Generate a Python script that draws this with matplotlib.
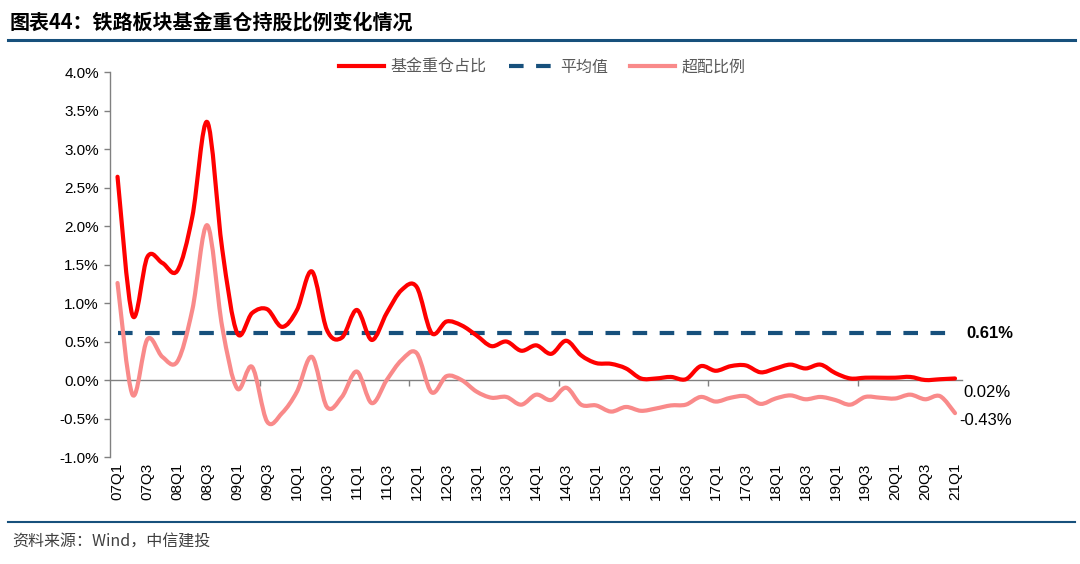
import numpy as np
import matplotlib
matplotlib.use("Agg")
import matplotlib.pyplot as plt
from matplotlib.path import Path
from matplotlib.patches import PathPatch
from matplotlib.lines import Line2D

plt.rcParams['font.family'] = ['Liberation Sans', 'Noto Sans CJK SC']

# data, % values, 07Q1 .. 21Q1
quarters = [f"{y:02d}Q{q}" for y in range(7, 22) for q in range(1, 5)][:57]

heavy = [2.64, 0.84, 1.60, 1.52, 1.42, 2.12, 3.35, 1.70,
         0.61, 0.87, 0.92, 0.69, 0.91, 1.41, 0.65, 0.55,
         0.91, 0.52, 0.87, 1.17, 1.21, 0.61, 0.76, 0.71,
         0.58, 0.44, 0.50, 0.38, 0.45, 0.34, 0.51, 0.32,
         0.22, 0.21, 0.15, 0.02, 0.02, 0.04, 0.01, 0.18,
         0.12, 0.18, 0.19, 0.10, 0.15, 0.20, 0.15, 0.20,
         0.09, 0.02, 0.03, 0.03, 0.03, 0.04, 0.00, 0.01,
         0.02]

overweight = [1.26, -0.19, 0.53, 0.30, 0.24, 0.91, 2.01, 0.69,
              -0.11, 0.17, -0.54, -0.43, -0.15, 0.30, -0.35, -0.22,
              0.11, -0.30, 0.00, 0.26, 0.35, -0.16, 0.05, 0.00,
              -0.15, -0.23, -0.22, -0.32, -0.19, -0.26, -0.10, -0.32,
              -0.33, -0.41, -0.35, -0.40, -0.37, -0.33, -0.32, -0.22,
              -0.28, -0.23, -0.21, -0.31, -0.24, -0.20, -0.25, -0.22,
              -0.26, -0.32, -0.22, -0.23, -0.24, -0.19, -0.25, -0.21,
              -0.43]

avg_value = 0.61

RED = "#FF0000"
PINK = "#F98A8A"
NAVY = "#17507C"
GRID = "#808080"


def smooth_path(x, y):
    # excel-style smoothed line: catmull-rom segments as cubic beziers
    n = len(x)
    verts = [(x[0], y[0])]
    codes = [Path.MOVETO]
    for i in range(n - 1):
        a = max(i - 1, 0)
        b = min(i + 2, n - 1)
        c1 = (x[i] + (x[i + 1] - x[a]) / 6, y[i] + (y[i + 1] - y[a]) / 6)
        c2 = (x[i + 1] - (x[b] - x[i]) / 6, y[i + 1] - (y[b] - y[i]) / 6)
        verts += [c1, c2, (x[i + 1], y[i + 1])]
        codes += [Path.CURVE4] * 3
    return Path(verts, codes)


fig = plt.figure(figsize=(10.8, 5.64), dpi=100)
ax = fig.add_axes([0.1019, 0.1897, 0.7893, 0.6826])

xs = np.arange(len(quarters))

ax.add_patch(PathPatch(smooth_path(xs, overweight), fill=False, edgecolor=PINK,
                       lw=3, capstyle='round', joinstyle='round', zorder=3))
ax.add_patch(PathPatch(smooth_path(xs, heavy), fill=False, edgecolor=RED,
                       lw=3, capstyle='round', joinstyle='round', zorder=4))
ax.plot(xs, [avg_value] * len(xs), color=NAVY, lw=3, dashes=(3.5, 3), zorder=2)

ax.set_xlim(-0.5, len(quarters) - 0.5)
ax.set_ylim(-1.0, 4.0)
ax.set_yticks(np.arange(-1.0, 4.01, 0.5))
ax.set_yticklabels([f"{v:.1f}%" for v in np.arange(-1.0, 4.01, 0.5)], fontsize=11)
ax.set_xticks(xs[::2])
ax.set_xticklabels(quarters[::2], rotation=90, fontsize=11)
ax.tick_params(axis='x', length=0, pad=4)
ax.tick_params(axis='y', length=4, width=1, color=GRID, pad=4, direction='out')

for s in ['top', 'right', 'bottom']:
    ax.spines[s].set_visible(False)
ax.spines['left'].set_color(GRID)
ax.spines['left'].set_linewidth(1)

# zero line with category-group tick marks
sec = ax.secondary_xaxis(0.2)
sec.set_xticks(np.arange(9.5, len(quarters), 10))
sec.tick_params(axis='x', length=4, width=1, color=GRID, labelbottom=False,
                direction='out')
sec.spines['bottom'].set_color(GRID)
sec.spines['bottom'].set_linewidth(1)

# end labels
ax.annotate(f"{avg_value:.2f}%", xy=(xs[-1], avg_value), xytext=(8, 0),
            textcoords='offset points', fontsize=12, fontweight='bold',
            va='center', ha='left')
ax.annotate(f"{heavy[-1]:.2f}%", xy=(xs[-1], heavy[-1]), xytext=(6, -10),
            textcoords='offset points', fontsize=12, va='center', ha='left')
ax.annotate(f"{overweight[-1]:.2f}%", xy=(xs[-1], overweight[-1]), xytext=(3, -5),
            textcoords='offset points', fontsize=12, va='center', ha='left')

handles = [Line2D([], [], color=RED, lw=3),
           Line2D([], [], color=NAVY, lw=3, dashes=(3.5, 3)),
           Line2D([], [], color=PINK, lw=3)]
leg = fig.legend(handles, ["基金重仓占比", "平均值", "超配比例"], loc='center',
                 bbox_to_anchor=(0.502, 0.881), ncol=3, frameon=False,
                 handlelength=2.8, handletextpad=0.4, columnspacing=1.4,
                 prop={'family': ['Noto Sans CJK SC'], 'size': 11.5})
for t in leg.get_texts():
    t.set_color("#595959")

# header / footer
fig.text(0.009, 1 - 22 / 564, "图表44：铁路板块基金重仓持股比例变化情况", fontsize=14.4,
         fontweight='bold', va='center', ha='left',
         family=['Noto Sans CJK SC', 'Liberation Sans'])
fig.add_artist(Line2D([8 / 1080, 1075 / 1080], [1 - 40 / 564, 1 - 40 / 564],
                      color=NAVY, lw=2.2))
fig.add_artist(Line2D([8 / 1080, 1075 / 1080], [1 - 522 / 564, 1 - 522 / 564],
                      color=NAVY, lw=1.5))
fig.text(0.011, 1 - 542 / 564, "资料来源：Wind，中信建投", fontsize=11.5,
         style='italic', color="#404040", va='center', ha='left',
         family=['Noto Sans CJK SC', 'Liberation Serif'])

fig.savefig("out.png", dpi=100)
